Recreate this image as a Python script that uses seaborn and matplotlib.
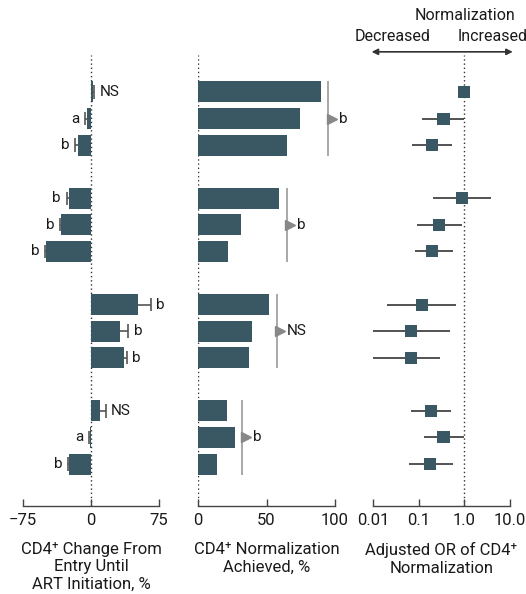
import numpy as np
import pandas as pd
import seaborn as sns
import matplotlib.pyplot as plt

# 4 groups x 3 rows
group_id = [0, 0, 0, 1, 1, 1, 2, 2, 2, 3, 3, 3]
row_in_group = [0, 1, 2, 0, 1, 2, 0, 1, 2, 0, 1, 2]

# panel 1: CD4 change from entry until ART initiation, % (bar value and outer CI end)
change_pct = [2.0, -4.4, -14.3, -24.0, -33.0, -49.6, 51.5, 31.6, 36.0, 9.6, -1.1, -24.0]
change_ci = [3.5, -6.6, -17.3, -27.0, -34.5, -51.0, 65.8, 40.8, 39.4, 16.2, -2.2, -25.7]
change_sig = ["NS", "a", "b", "b", "b", "b", "b", "b", "b", "NS", "a", "b"]

# panel 2: CD4 normalization achieved, %
norm_pct = [89.6, 74.2, 65.0, 59.1, 31.4, 21.9, 51.8, 39.2, 37.2, 20.9, 26.8, 13.6]
norm_group_sig = ["b", "b", "NS", "b"]

# panel 3: adjusted OR of CD4 normalization
or_est = [1.0, 0.35, 0.20, 0.90, 0.28, 0.20, 0.12, 0.069, 0.069, 0.19, 0.35, 0.18]
or_lo = [0.97, 0.12, 0.071, 0.21, 0.091, 0.082, 0.020, 0.010, 0.010, 0.069, 0.13, 0.061]
or_hi = [1.03, 1.0, 0.53, 3.84, 0.88, 0.56, 0.67, 0.49, 0.30, 0.52, 0.97, 0.56]
or_ticks = [0.01, 0.1, 1.0, 10.0]
or_ticklabels = ["0.01", "0.1", "1.0", "10.0"]

xlabels = [
    "CD4\u207a Change From\nEntry Until\nART Initiation, %",
    "CD4\u207a Normalization\nAchieved, %",
    "Adjusted OR of CD4\u207a\nNormalization",
]

df = pd.DataFrame({
    "pos": [g * 4 + r for g, r in zip(group_id, row_in_group)],
    "change": change_pct,
    "change_ci": change_ci,
    "norm": norm_pct,
    "or": or_est,
    "lo": or_lo,
    "hi": or_hi,
})

sns.set_theme(style="white")
plt.rcParams["font.family"] = ["Roboto", "DejaVu Sans"]
plt.rcParams["font.size"] = 10

BAR = "#395864"
ERR = "#555555"
TXT = "#1a1a1a"
DOT = (0, (1, 2))
FS = 12

fig = plt.figure(figsize=(5.26, 5.94), dpi=100)
ax1 = fig.add_axes([23 / 526, 88 / 594, 136 / 526, 451 / 594])
ax2 = fig.add_axes([198 / 526, 88 / 594, 137 / 526, 451 / 594])
ax3 = fig.add_axes([373 / 526, 88 / 594, 137 / 526, 451 / 594])

ylim = (15.58, -1.39)


def style_axis(ax, label):
    sns.despine(ax=ax, left=True)
    ax.spines["bottom"].set_color("#444444")
    ax.spines["bottom"].set_linewidth(1.0)
    ax.set_yticks([])
    ax.set_ylabel("")
    ax.set_ylim(*ylim)
    ax.tick_params(axis="x", direction="in", length=5, width=1, color="#444444",
                   labelsize=FS, labelcolor=TXT, pad=5, bottom=True)
    ax.set_xlabel(label, fontsize=FS, color=TXT, labelpad=10, linespacing=1.22)


# panel 1
sns.barplot(data=df, x="change", y="pos", orient="y", native_scale=True,
            width=0.79, color=BAR, saturation=1, errorbar=None, linewidth=0, ax=ax1)
ax1.hlines(df["pos"], df["change"], df["change_ci"], color=ERR, lw=1.2)
ax1.vlines(df["change_ci"], df["pos"] - 0.25, df["pos"] + 0.25, color=ERR, lw=1.2)
for ci, p, s in zip(df["change_ci"], df["pos"], change_sig):
    side = 1 if ci > 0 else -1
    ax1.annotate(s, (ci, p), xytext=(4 * side, 0), textcoords="offset points",
                 ha="left" if side > 0 else "right", va="center", fontsize=11, color=TXT)
ax1.axvline(0, color="#333333", lw=1, ls=DOT, zorder=0)
ax1.set_xlim(-75, 75)
ax1.set_xticks([-75, 0, 75])
style_axis(ax1, xlabels[0])

# panel 2
sns.barplot(data=df, x="norm", y="pos", orient="y", native_scale=True,
            width=0.79, color=BAR, saturation=1, errorbar=None, linewidth=0, ax=ax2)
for g, sig in enumerate(norm_group_sig):
    sub = df[[gi == g for gi in group_id]]
    bx = sub["norm"].max() + 5.5
    y0, y1 = sub["pos"].min() - 0.4, sub["pos"].max() + 0.4
    ax2.vlines(bx, y0, y1, color="#999999", lw=1.2)
    ymid = sub["pos"].mean()
    ax2.plot(bx + 2.8, ymid, marker=">", markersize=7, color="#888888", clip_on=False)
    ax2.text(bx + 7.5, ymid, sig, ha="left", va="center", fontsize=11, color=TXT)
ax2.axvline(0, color="#333333", lw=1, ls=DOT, zorder=0)
ax2.set_xlim(0, 100)
ax2.set_xticks([0, 50, 100])
style_axis(ax2, xlabels[1])

# panel 3
ax3.set_xscale("log")
ax3.axvline(1.0, color="#333333", lw=1, ls=DOT, zorder=0)
ax3.hlines(df["pos"], df["lo"], df["hi"], color="#444444", lw=1.3, zorder=2)
sns.scatterplot(data=df, x="or", y="pos", marker="s", s=75, color=BAR,
                edgecolor="none", zorder=3, ax=ax3, legend=False)
ax3.set_xlim(0.01, 10.0)
ax3.set_xticks(or_ticks)
ax3.set_xticklabels(or_ticklabels)
ax3.minorticks_off()
style_axis(ax3, xlabels[2])

# direction header above the OR panel
ax3.annotate("", xy=(1.02, 1.007), xytext=(-0.01, 1.007), xycoords="axes fraction",
             arrowprops=dict(arrowstyle="<|-|>", color="#333333", lw=1.2,
                             mutation_scale=9, shrinkA=0, shrinkB=0),
             annotation_clip=False)
ax3.text(0.668, 1.088, "Normalization", transform=ax3.transAxes, ha="center", va="center",
         fontsize=11.5, color=TXT)
ax3.text(0.14, 1.04, "Decreased", transform=ax3.transAxes, ha="center", va="center",
         fontsize=11.5, color=TXT)
ax3.text(0.87, 1.04, "Increased", transform=ax3.transAxes, ha="center", va="center",
         fontsize=11.5, color=TXT)

fig.savefig("out.png", dpi=100)
